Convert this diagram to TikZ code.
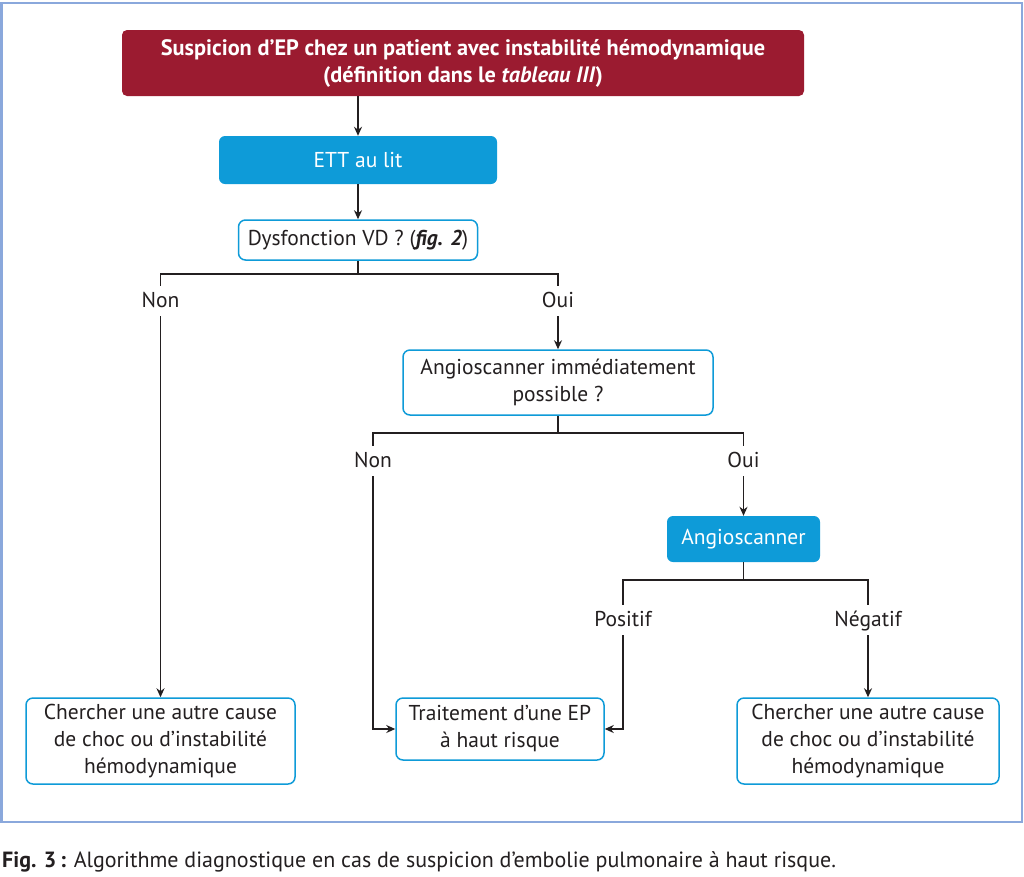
\documentclass[tikz,border=0pt]{standalone}
\usepackage{fontspec}
\setmainfont{PT Sans}
\usetikzlibrary{arrows.meta}
\definecolor{epred}{HTML}{9B1B30}
\definecolor{epblue}{HTML}{0E9BD8}
\definecolor{epframe}{HTML}{8AA8DC}
\definecolor{eptext}{HTML}{231F20}
\begin{document}
\begin{tikzpicture}[x=1pt,y=-1pt,
  every node/.style={font=\fontsize{21.5}{27}\selectfont, text=eptext},
  redbox/.style={fill=epred, rounded corners=5pt, inner sep=0pt, align=center, text=white, font=\fontsize{22.3}{27}\selectfont\bfseries},
  bluebox/.style={fill=epblue, rounded corners=6pt, inner sep=0pt, align=center, text=white},
  whitebox/.style={draw=epblue, line width=1.5pt, fill=white, rounded corners=7pt, inner sep=0pt, align=center},
  lbl/.style={inner sep=0pt, text height=15pt, text depth=5pt},
  conn/.style={draw=eptext, line width=1.8pt},
  arr/.style={conn, -{Stealth[length=9pt,width=8pt]}}
]
\useasboundingbox (0,0) rectangle (1024,876);
\fill[white] (0,0) rectangle (1024,876);
\draw[epframe, line width=2.5pt] (1.5,3) rectangle (1022,822);

\node[redbox, minimum width=682pt, minimum height=66pt] (top) at (463,63)
  {Suspicion d'EP chez un patient avec instabilité hémodynamique\\(définition dans le \textit{tableau III})};
\node[bluebox, minimum width=278pt, minimum height=48pt] (ett) at (358,160) {ETT au lit};
\node[whitebox, minimum width=239pt, minimum height=40pt] (dys) at (358,240) {Dysfonction VD ? (\textbf{\textit{fig. 2}})};
\node[whitebox, minimum width=310pt, minimum height=65pt] (aq) at (558,382.5) {Angioscanner immédiatement\\possible ?};
\node[bluebox, minimum width=153pt, minimum height=46pt] (ang) at (743.5,539) {Angioscanner};
\node[whitebox, minimum width=269pt, minimum height=86pt] (b1) at (160.5,741) {Chercher une autre cause\\de choc ou d'instabilité\\hémodynamique};
\node[whitebox, minimum width=208pt, minimum height=62pt] (b2) at (500,729) {Traitement d'une EP\\à haut risque};
\node[whitebox, minimum width=262pt, minimum height=86pt] (b3) at (868,741) {Chercher une autre cause\\de choc ou d'instabilité\\hémodynamique};

\node[lbl] (non1) at (160.5,302) {Non};
\node[lbl] (oui1) at (558,302) {Oui};
\node[lbl] (non2) at (373,462) {Non};
\node[lbl] (oui2) at (743.5,462) {Oui};
\node[lbl] (pos) at (623,621) {Positif};
\node[lbl] (neg) at (868,621) {Négatif};

\coordinate (j1) at (358,274);
\coordinate (j2) at (558,433);
\coordinate (j3) at (743.5,580);

\draw[arr] (top.south -| ett.north) -- (ett.north);
\draw[arr] (ett) -- (dys);
\draw[conn] (dys.south) -- (j1);
\draw[conn] ([yshift=6pt]non1.north) |- (j1) -| ([yshift=6pt]oui1.north);
\draw[arr] ([yshift=-4pt]non1.south) -- (b1.north);
\draw[arr] ([yshift=-4pt]oui1.south) -- (aq.north);
\draw[conn] (aq.south) -- (j2);
\draw[conn] ([yshift=6pt]non2.north) |- (j2) -| ([yshift=6pt]oui2.north);
\draw[arr] ([yshift=-4pt]oui2.south) -- (ang.north);
\draw[arr] ([yshift=-4pt]non2.south) |- (b2.west);
\draw[conn] (ang.south) -- (j3);
\draw[conn] ([yshift=6pt]pos.north) |- (j3) -| ([yshift=6pt]neg.north);
\draw[arr] ([yshift=-4pt]pos.south) |- (b2.east);
\draw[arr] ([yshift=-4pt]neg.south) -- (b3.north);

\node[anchor=west, inner sep=0pt, font=\fontsize{22}{24}\selectfont] (cap) at (2,862)
  {\textbf{Fig. 3\,:} Algorithme diagnostique en cas de suspicion d'embolie pulmonaire à haut risque.};
\end{tikzpicture}
\end{document}
